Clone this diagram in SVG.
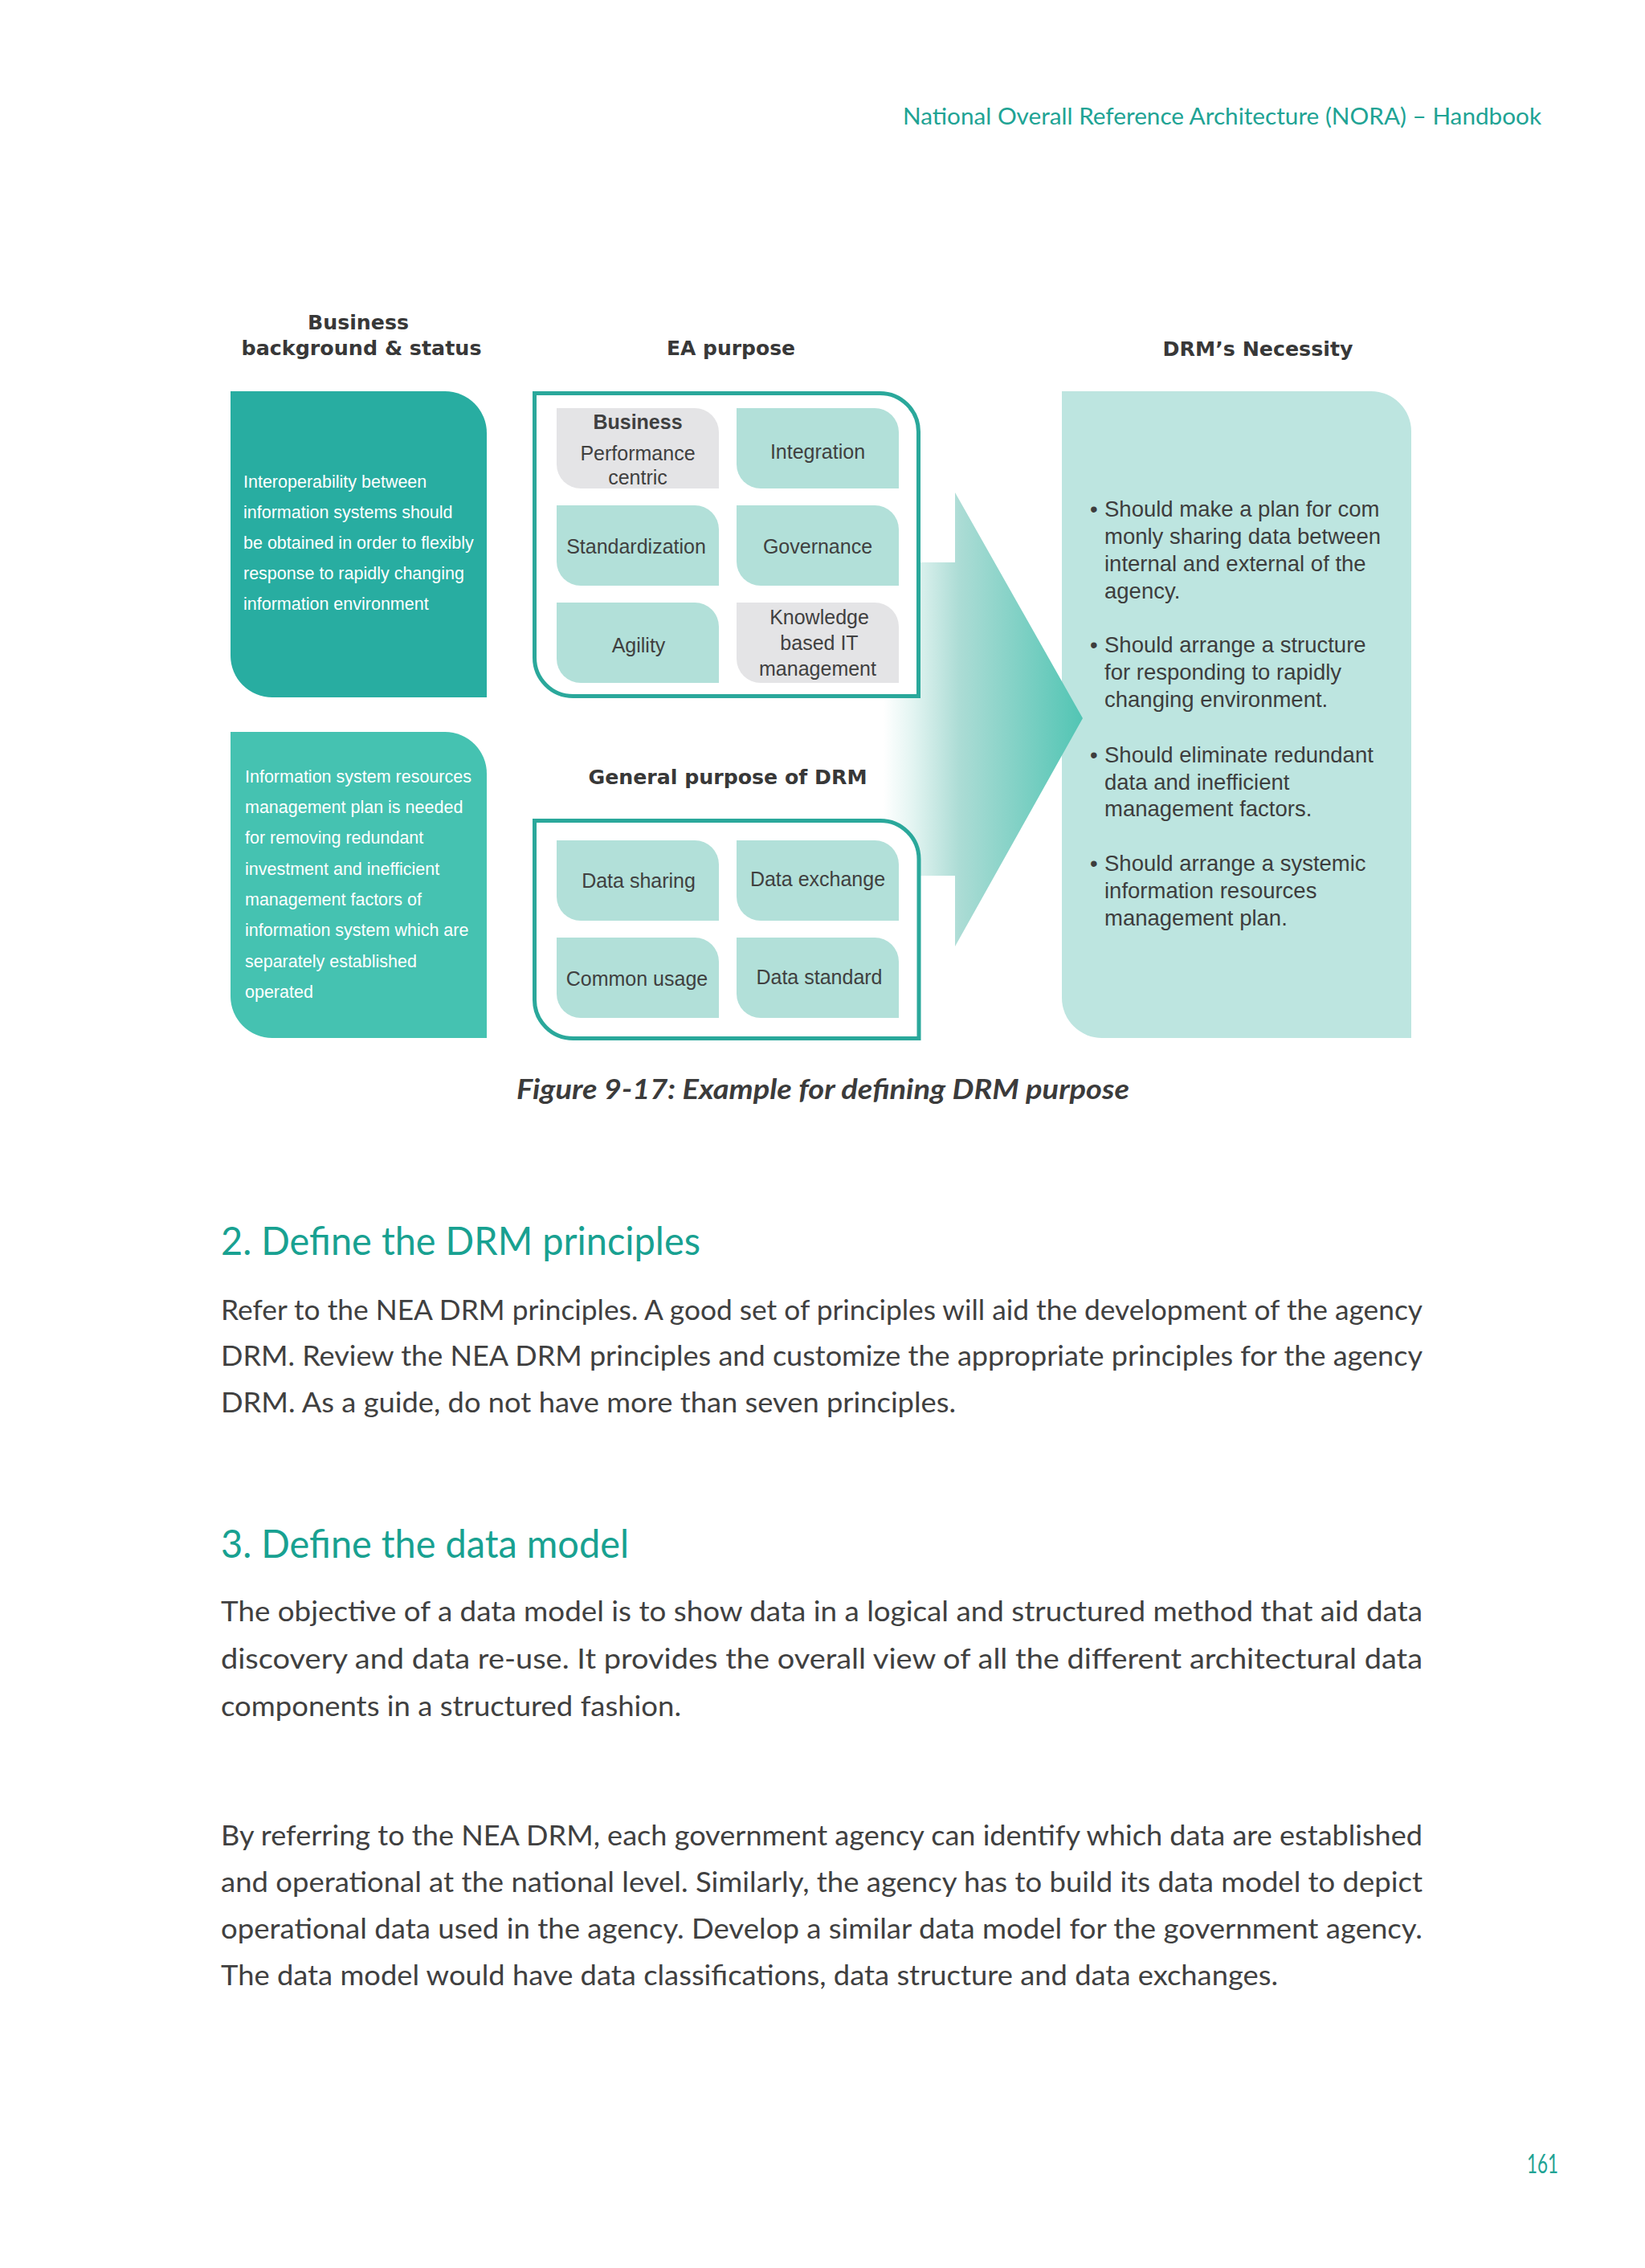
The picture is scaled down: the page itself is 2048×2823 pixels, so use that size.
<svg xmlns="http://www.w3.org/2000/svg" width="2048" height="2823" viewBox="0 0 2048 2823">
<style>
.hdr{font-family:Lato,"Open Sans","Liberation Sans",sans-serif;fill:#20a394}
.sec{font-family:Lato,"Open Sans","Liberation Sans",sans-serif;fill:#18a191;font-size:48px}
.body{font-family:Lato,"Open Sans","Liberation Sans",sans-serif;fill:#404040;font-size:34px}
.cap{font-family:Lato,"Open Sans","Liberation Sans",sans-serif;fill:#3b3b3b;font-size:34px;font-weight:bold;font-style:italic}
.lbl{font-family:"DejaVu Sans","Liberation Sans",sans-serif;font-weight:bold;font-size:24px;fill:#383838;text-anchor:middle}
.wt{font-family:"Liberation Sans",Arial,sans-serif;font-size:21.5px;fill:#ffffff}
.ct{font-family:"Liberation Sans",Arial,sans-serif;font-size:25px;fill:#404040;text-anchor:middle}
.nt{font-family:"Liberation Sans",Arial,sans-serif;font-size:27.5px;fill:#3d3d3d}
.teal{fill:#b2e0d9}
.grey{fill:#e4e4e6}
.frame{fill:#ffffff;stroke:#2aa89b;stroke-width:5}
</style>
<defs>
<linearGradient id="arrowGrad" gradientUnits="userSpaceOnUse" x1="1100" y1="0" x2="1348" y2="0">
<stop offset="0" stop-color="#ffffff"/>
<stop offset="0.15" stop-color="#e2f4f1"/>
<stop offset="0.38" stop-color="#acdcd5"/>
<stop offset="1" stop-color="#52c5b4"/>
</linearGradient>
</defs>
<rect x="0" y="0" width="2048" height="2823" fill="#ffffff"/>

<g id="page-header">
<text class="hdr" x="1124" y="155" font-size="29" textLength="795" lengthAdjust="spacingAndGlyphs">National Overall Reference Architecture (NORA) – Handbook</text>
</g>

<g id="column-labels">
<text class="lbl" x="446" y="410" textLength="126" lengthAdjust="spacingAndGlyphs">Business</text>
<text class="lbl" x="450" y="442" textLength="299" lengthAdjust="spacingAndGlyphs">background &amp; status</text>
<text class="lbl" x="910" y="442" textLength="160" lengthAdjust="spacingAndGlyphs">EA purpose</text>
<text class="lbl" x="1566" y="443" textLength="237" lengthAdjust="spacingAndGlyphs">DRM’s Necessity</text>
<text class="lbl" x="906" y="976" textLength="347" lengthAdjust="spacingAndGlyphs">General purpose of DRM</text>
</g>

<g id="node-drm-necessity">
<path d="M1322,487 H1707 A50,50 0 0 1 1757,537 V1292 H1372 A50,50 0 0 1 1322,1242 Z" fill="#bde5e0"/>
<text class="nt"><tspan x="1357" y="643">•</tspan><tspan x="1375" y="643">Should make a plan for com</tspan><tspan x="1375" y="677">monly sharing data between</tspan><tspan x="1375" y="711">internal and external of the</tspan><tspan x="1375" y="745">agency.</tspan></text>
<text class="nt"><tspan x="1357" y="812">•</tspan><tspan x="1375" y="812">Should arrange a structure</tspan><tspan x="1375" y="846">for responding to rapidly</tspan><tspan x="1375" y="880">changing environment.</tspan></text>
<text class="nt"><tspan x="1357" y="949">•</tspan><tspan x="1375" y="949">Should eliminate redundant</tspan><tspan x="1375" y="983">data and inefficient</tspan><tspan x="1375" y="1016">management factors.</tspan></text>
<text class="nt"><tspan x="1357" y="1084">•</tspan><tspan x="1375" y="1084">Should arrange a systemic</tspan><tspan x="1375" y="1118">information resources</tspan><tspan x="1375" y="1152">management plan.</tspan></text>
</g>

<g id="connectors">
<path id="arrow-to-necessity" d="M1100,700 H1189 V613 L1348,894 L1189,1178 V1090 H1100 Z" fill="url(#arrowGrad)"/>
</g>

<g id="node-business-background-1">
<path d="M287,487 H554 A52,52 0 0 1 606,539 V868 H339 A52,52 0 0 1 287,816 Z" fill="#28ada1"/>
<text class="wt"><tspan x="303" y="607">Interoperability between</tspan><tspan x="303" y="645">information systems should</tspan><tspan x="303" y="683">be obtained in order to flexibly</tspan><tspan x="303" y="721">response to rapidly changing</tspan><tspan x="303" y="759">information environment</tspan></text>
</g>

<g id="node-business-background-2">
<path d="M287,911 H554 A52,52 0 0 1 606,963 V1292 H339 A52,52 0 0 1 287,1240 Z" fill="#45c2b1"/>
<text class="wt"><tspan x="305" y="974">Information system resources</tspan><tspan x="305" y="1012">management plan is needed</tspan><tspan x="305" y="1050">for removing redundant</tspan><tspan x="305" y="1089">investment and inefficient</tspan><tspan x="305" y="1127">management factors of</tspan><tspan x="305" y="1165">information system which are</tspan><tspan x="305" y="1204">separately established</tspan><tspan x="305" y="1242">operated</tspan></text>
</g>

<g id="node-ea-purpose">
<path class="frame" d="M665.5,489.5 H1095.5 A48,48 0 0 1 1143.5,537.5 V866.5 H713.5 A48,48 0 0 1 665.5,818.5 Z"/>
<g id="ea-business-performance">
<path class="grey" d="M693,508 H865 A30,30 0 0 1 895,538 V608 H723 A30,30 0 0 1 693,578 Z"/>
<text class="ct" x="794" y="534" font-weight="bold">Business</text>
<text class="ct" x="794" y="573">Performance</text>
<text class="ct" x="794" y="603">centric</text>
</g>
<g id="ea-integration">
<path class="teal" d="M917,508 H1089 A30,30 0 0 1 1119,538 V608 H947 A30,30 0 0 1 917,578 Z"/>
<text class="ct" x="1018" y="571">Integration</text>
</g>
<g id="ea-standardization">
<path class="teal" d="M693,629 H865 A30,30 0 0 1 895,659 V729 H723 A30,30 0 0 1 693,699 Z"/>
<text class="ct" x="792" y="689">Standardization</text>
</g>
<g id="ea-governance">
<path class="teal" d="M917,629 H1089 A30,30 0 0 1 1119,659 V729 H947 A30,30 0 0 1 917,699 Z"/>
<text class="ct" x="1018" y="689">Governance</text>
</g>
<g id="ea-agility">
<path class="teal" d="M693,750 H865 A30,30 0 0 1 895,780 V850 H723 A30,30 0 0 1 693,820 Z"/>
<text class="ct" x="795" y="812">Agility</text>
</g>
<g id="ea-knowledge-it">
<path class="grey" d="M917,750 H1089 A30,30 0 0 1 1119,780 V850 H947 A30,30 0 0 1 917,820 Z"/>
<text class="ct" x="1020" y="777">Knowledge</text>
<text class="ct" x="1020" y="809">based IT</text>
<text class="ct" x="1018" y="841">management</text>
</g>
</g>

<g id="node-drm-general-purpose">
<path class="frame" d="M665.5,1021.5 H1096 A48,48 0 0 1 1144,1069.5 V1292.5 H713.5 A48,48 0 0 1 665.5,1244.5 Z"/>
<g id="drm-data-sharing">
<path class="teal" d="M693,1046 H865 A30,30 0 0 1 895,1076 V1146 H723 A30,30 0 0 1 693,1116 Z"/>
<text class="ct" x="795" y="1105">Data sharing</text>
</g>
<g id="drm-data-exchange">
<path class="teal" d="M917,1046 H1089 A30,30 0 0 1 1119,1076 V1146 H947 A30,30 0 0 1 917,1116 Z"/>
<text class="ct" x="1018" y="1103">Data exchange</text>
</g>
<g id="drm-common-usage">
<path class="teal" d="M693,1167 H865 A30,30 0 0 1 895,1197 V1267 H723 A30,30 0 0 1 693,1237 Z"/>
<text class="ct" x="793" y="1227">Common usage</text>
</g>
<g id="drm-data-standard">
<path class="teal" d="M917,1167 H1089 A30,30 0 0 1 1119,1197 V1267 H947 A30,30 0 0 1 917,1237 Z"/>
<text class="ct" x="1020" y="1225">Data standard</text>
</g>
</g>

<g id="caption">
<text class="cap" x="643" y="1368" textLength="763" lengthAdjust="spacingAndGlyphs">Figure 9-17: Example for defining DRM purpose</text>
</g>

<g id="section-2">
<text class="sec" x="275" y="1562" textLength="597" lengthAdjust="spacingAndGlyphs">2. Define the DRM principles</text>
<text class="body" x="275" y="1643" textLength="1496" lengthAdjust="spacingAndGlyphs">Refer to the NEA DRM principles. A good set of principles will aid the development of the agency</text>
<text class="body" x="275" y="1700" textLength="1496" lengthAdjust="spacingAndGlyphs">DRM. Review the NEA DRM principles and customize the appropriate principles for the agency</text>
<text class="body" x="275" y="1758" textLength="915" lengthAdjust="spacingAndGlyphs">DRM. As a guide, do not have more than seven principles.</text>
</g>

<g id="section-3">
<text class="sec" x="275" y="1939" textLength="508" lengthAdjust="spacingAndGlyphs">3. Define the data model</text>
<text class="body" x="275" y="2018" textLength="1496" lengthAdjust="spacingAndGlyphs">The objective of a data model is to show data in a logical and structured method that aid data</text>
<text class="body" x="275" y="2077" textLength="1496" lengthAdjust="spacingAndGlyphs">discovery and data re-use. It provides the overall view of all the different architectural data</text>
<text class="body" x="275" y="2136" textLength="573" lengthAdjust="spacingAndGlyphs">components in a structured fashion.</text>
<text class="body" x="275" y="2297" textLength="1496" lengthAdjust="spacingAndGlyphs">By referring to the NEA DRM, each government agency can identify which data are established</text>
<text class="body" x="275" y="2355" textLength="1496" lengthAdjust="spacingAndGlyphs">and operational at the national level. Similarly, the agency has to build its data model to depict</text>
<text class="body" x="275" y="2413" textLength="1496" lengthAdjust="spacingAndGlyphs">operational data used in the agency. Develop a similar data model for the government agency.</text>
<text class="body" x="275" y="2471" textLength="1316" lengthAdjust="spacingAndGlyphs">The data model would have data classifications, data structure and data exchanges.</text>
</g>

<g id="page-number">
<text class="hdr" x="1901" y="2705" font-size="33" textLength="39" lengthAdjust="spacingAndGlyphs">161</text>
</g>
</svg>
